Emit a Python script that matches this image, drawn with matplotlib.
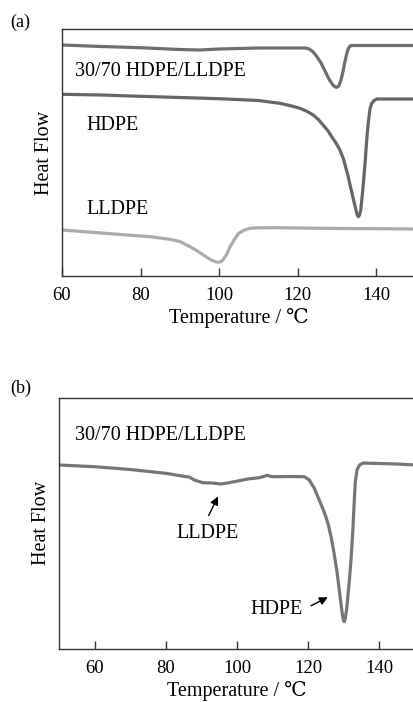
import matplotlib
matplotlib.use("Agg")
import matplotlib.pyplot as plt

plt.rcParams['font.family'] = ['Liberation Serif', 'DejaVu Serif']

# (a) DSC curves, heat flow in arbitrary units
blend_T = [60, 70, 80, 90, 95, 100, 110, 120, 122, 123, 124, 125, 126, 127, 128, 129,
           129.6, 130, 130.5, 131, 131.5, 132, 132.5, 133, 133.5, 134, 140, 150]
blend_hf = [231, 229.5, 228.3, 226.5, 226, 227, 228, 228, 228, 227, 224, 219, 213, 205, 197, 191,
            189, 188.7, 190, 195, 203, 213, 222, 228, 230.3, 230.5, 230.5, 230.5]

hdpe_T = [60, 70, 80, 90, 100, 110, 115.5, 118, 120.6, 122.5, 124, 125.3, 126.5, 127.7, 128.7,
          129.8, 130.8, 131.7, 132.8, 133.8, 134.7, 135.2, 135.5, 135.8, 136.1, 136.6, 137.2,
          137.6, 138, 138.5, 138.9, 139.5, 140.2, 145, 150]
hdpe_hf = [181.7, 181, 179.7, 178.5, 177.3, 175.5, 172.7, 170.5, 167.7, 164.5, 161, 156.5, 151, 145.5, 139.3,
           133, 126, 117, 101, 84, 69, 61, 59.3, 61, 66, 85, 112.7,
           135, 152.7, 168, 172.7, 175.5, 177, 177, 177]

lldpe_T = [60, 70, 80, 82.4, 87.5, 90, 92.6, 94.5, 96, 98, 99.2, 99.8, 100.4, 101, 102, 102.8,
           104, 105, 106.5, 107.9, 110, 114.7, 120, 130, 140, 150]
lldpe_hf = [46, 43, 40, 39.3, 36.7, 34.5, 29.3, 25, 21, 16, 14.2, 13.7, 14.2, 16, 22, 29.3,
            37, 42.7, 46, 47.7, 48.2, 48.3, 48, 47.5, 47.3, 47]

# (b) 30/70 blend
b_T = [50, 60, 70, 80, 85.7, 86.5, 88, 90.4, 93, 95.5, 98, 100.7, 103, 106.3, 108.6, 109.5,
       111, 115, 118.9, 120.3, 121.7, 123.1, 124.6, 125.6, 126.5, 127.3, 128.1, 128.8, 129.5,
       129.9, 130.1, 130.4, 130.8, 131.5, 132, 132.5, 132.9, 133.2, 133.7, 134.4, 135.5, 137.2,
       140, 145, 150]
b_hf = [184, 182.3, 179.5, 175.7, 172.3, 172, 169, 166.3, 166, 165, 166.5, 168.3, 170, 171.3, 173.7, 172.5,
        172.3, 172.5, 172.3, 169, 160.7, 149, 136, 125, 111, 95, 77, 57, 37,
        29, 27.3, 30, 40, 66, 88, 116, 145, 166, 179, 184, 186, 185.7,
        185.5, 185, 184]

W, H = 413, 702
fig = plt.figure(figsize=(W / 100, H / 100), dpi=100)

ax1 = fig.add_axes([62 / W, 1 - 276 / H, 353.3 / W, 247 / H])
ax2 = fig.add_axes([59 / W, 1 - 649 / H, 356 / W, 251.3 / H])

ax1.plot(blend_T, blend_hf, color='#6e6e6e', lw=2.3, solid_joinstyle='round')
ax1.plot(hdpe_T, hdpe_hf, color='#666666', lw=2.3, solid_joinstyle='round')
ax1.plot(lldpe_T, lldpe_hf, color='#ababab', lw=2.3, solid_joinstyle='round')
ax1.set_xlim(60, 150)
ax1.set_ylim(0, 247)
ax1.set_xticks([60, 80, 100, 120, 140])

ax2.plot(b_T, b_hf, color='#767676', lw=2.3, solid_joinstyle='round')
ax2.set_xlim(50, 150)
ax2.set_ylim(0, 251.3)
ax2.set_xticks([60, 80, 100, 120, 140])

for ax in (ax1, ax2):
    ax.set_yticks([])
    ax.spines['right'].set_visible(False)
    for s in ('left', 'top', 'bottom'):
        ax.spines[s].set_color('#333333')
        ax.spines[s].set_linewidth(1.0)
    ax.tick_params(axis='x', direction='in', length=6, width=1, color='#333333',
                   labelsize=13.5, pad=8)
    ax.set_xlabel('Temperature / ℃', fontsize=14.5, labelpad=3)
    ax.set_ylabel('Heat Flow', fontsize=14.5, labelpad=6)

def ftext(x, y, s, **kw):
    fig.text(x / W, 1 - y / H, s, **kw)

ftext(10, 22, '(a)', fontsize=13, va='center')
ftext(10, 388, '(b)', fontsize=13, va='center')
ftext(75, 71, '30/70 HDPE/LLDPE', fontsize=14.5, va='center')
ftext(86, 125, 'HDPE', fontsize=14.5, va='center')
ftext(86, 209, 'LLDPE', fontsize=14.5, va='center')
ftext(75, 435, '30/70 HDPE/LLDPE', fontsize=14.5, va='center')

ax2.text(91.7, 115, 'LLDPE', fontsize=14.5, ha='center', va='center')
ax2.annotate('', xy=(95.0, 155), xytext=(91.7, 131),
             arrowprops=dict(arrowstyle='-|>', color='black', lw=1, mutation_scale=12))
ax2.text(111, 40, 'HDPE', fontsize=14.5, ha='center', va='center')
ax2.annotate('', xy=(126.2, 53), xytext=(120.1, 42),
             arrowprops=dict(arrowstyle='-|>', color='black', lw=1, mutation_scale=12))

fig.savefig('out.png', dpi=100)
